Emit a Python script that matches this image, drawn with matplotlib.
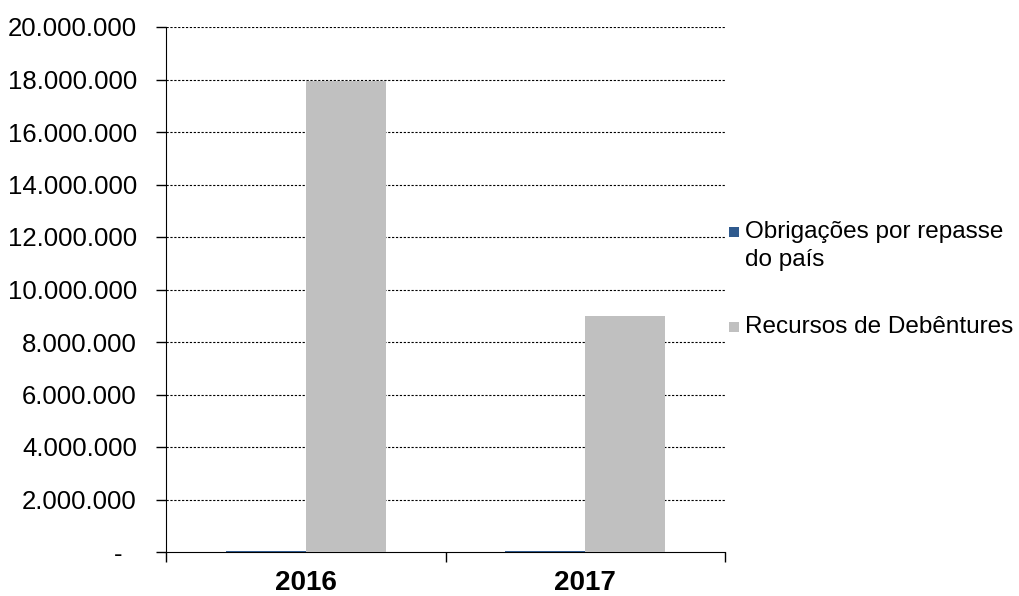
import matplotlib
matplotlib.use("Agg")
import matplotlib.pyplot as plt
import numpy as np
from matplotlib.patches import Rectangle

years = ["2016", "2017"]
obrigacoes = [50000, 50000]
debentures = [17950000, 9000000]
series_names = ["Obrigações por repasse\ndo país", "Recursos de Debêntures"]
colors = ["#2F5A8E", "#C0C0C0"]
yticks = np.arange(0, 20000001, 2000000)

plt.rcParams["font.family"] = ["Liberation Sans", "DejaVu Sans"]

W, H = 1019, 596
fig = plt.figure(figsize=(W / 100, H / 100), dpi=100)
ax = fig.add_axes([166 / W, 1 - 552 / H, (725 - 166) / W, (552 - 27) / H])

x = np.arange(len(years))
w = 0.287
ax.bar(x - w / 2, obrigacoes, w, color=colors[0], zorder=3)
ax.bar(x + w / 2, debentures, w, color=colors[1], zorder=3)

ax.set_xlim(-0.5, len(years) - 0.5)
ax.set_ylim(0, 20000000)

def fmt(v):
    if v == 0:
        return "-  "
    return f"{int(v):,}".replace(",", ".")

ax.set_yticks(yticks)
ax.set_yticklabels([fmt(v) for v in yticks], fontsize=18.5)
ax.tick_params(axis="y", length=7, width=1, pad=14)

ax.set_xticks(np.arange(-0.5, len(years), 1.0))
ax.set_xticklabels([])
ax.tick_params(axis="x", which="major", length=7, width=1)
ax.set_xticks(x, minor=True)
ax.set_xticklabels(years, minor=True, fontsize=20, fontweight="bold")
ax.tick_params(axis="x", which="minor", length=0, pad=13)

for y in yticks[1:]:
    ax.axhline(y, color="black", linestyle=(0, (2, 1.5)), linewidth=0.8, zorder=1)

ax.spines["top"].set_visible(False)
ax.spines["right"].set_visible(False)

# legend drawn by hand so the marker sits on the first line of a wrapped label
leg_marker_y = [232, 327]
leg_text_y = [246, 327]
for c, name, my, ty in zip(colors, series_names, leg_marker_y, leg_text_y):
    fig.patches.append(Rectangle((729 / W, 1 - (my + 5) / H), 10 / W, 10 / H,
                                 facecolor=c, edgecolor="none", transform=fig.transFigure))
    fig.text(745 / W, 1 - ty / H, name, fontsize=17.5, va="center", ha="left",
             linespacing=1.35)

fig.savefig("out.png", dpi=100)
